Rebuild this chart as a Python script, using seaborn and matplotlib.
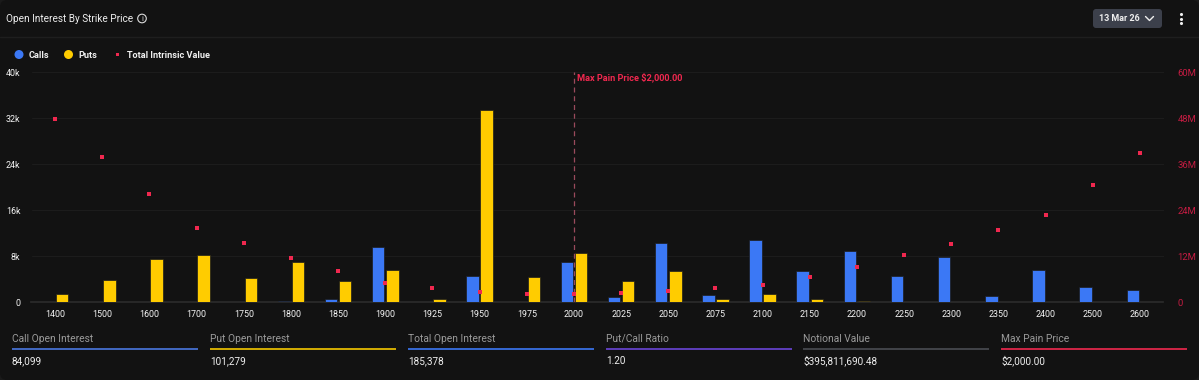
import matplotlib
matplotlib.use('Agg')
import matplotlib.pyplot as plt
import pandas as pd
import seaborn as sns
from matplotlib.patches import Circle, FancyBboxPatch, Rectangle

W, H = 1199, 380
BG = '#121212'
BLUE = '#3b78f5'
YELLOW = '#ffcc00'
RED = '#f0284f'
DARKRED = '#c41c42'

strikes = ['1400', '1500', '1600', '1700', '1750', '1800', '1850', '1900', '1925', '1950', '1975', '2000',
           '2025', '2050', '2075', '2100', '2150', '2200', '2250', '2300', '2350', '2400', '2500', '2600']
calls = [0, 0, 0, 0, 0, 150, 450, 9500, 0, 4500, 0, 7000,
         950, 10200, 1150, 10700, 5400, 8800, 4500, 7900, 1050, 5600, 2600, 2100]
puts = [1400, 3800, 7500, 8100, 4200, 6900, 3700, 5500, 550, 33400, 4400, 8500,
        3600, 5400, 550, 1400, 550, 200, 0, 0, 0, 0, 0, 0]
intrinsic = [47.7, 37.8, 28.2, 19.3, 15.4, 11.5, 8.1, 5.0, 3.7, 2.6, 2.2, 2.1,
             2.3, 2.9, 3.6, 4.4, 6.5, 9.1, 12.2, 15.1, 18.8, 22.7, 30.5, 38.9]

left_ticks = [0, 8000, 16000, 24000, 32000, 40000]
left_labels = ['0', '8k', '16k', '24k', '32k', '40k']
right_ticks = [0, 12, 24, 36, 48, 60]
right_labels = ['0', '12M', '24M', '36M', '48M', '60M']

stat_names = ['Call Open Interest', 'Put Open Interest', 'Total Open Interest',
              'Put/Call Ratio', 'Notional Value', 'Max Pain Price']
stat_values = ['84,099', '101,279', '185,378', '1.20', '$395,811,690.48', '$2,000.00']
stat_colors = ['#4a78e0', '#f5c800', '#3b78f5', '#6a45d8', '#4a4c52', '#f0284f']

sns.set_theme(style='dark')
plt.rcParams['font.family'] = ['Roboto', 'DejaVu Sans']

df = pd.DataFrame({'strike': strikes * 2,
                   'oi': calls + puts,
                   'type': ['Calls'] * len(strikes) + ['Puts'] * len(strikes)})
iv = pd.DataFrame({'strike': strikes, 'value': intrinsic})

fig = plt.figure(figsize=(W / 100, H / 100), dpi=100, facecolor='#1a1a1a')

# full figure layer in pixel coordinates for the panel furniture
bg = fig.add_axes([0, 0, 1, 1], zorder=0)
bg.set_xlim(0, W)
bg.set_ylim(H, 0)
bg.axis('off')
bg.add_patch(FancyBboxPatch((0, 0), W, H, boxstyle='round,pad=0,rounding_size=7', fc=BG, ec='none'))
bg.plot([0, W], [37, 37], color='#1e1e1e', lw=1)

ax = fig.add_axes([31.5 / W, 1 - 302 / H, 1132 / W, 230 / H], zorder=2)
ax.patch.set_alpha(0)
sns.barplot(data=df, x='strike', y='oi', hue='type', order=strikes, hue_order=['Calls', 'Puts'],
            palette=[BLUE, YELLOW], saturation=1, width=0.6, gap=0.12, legend=False, ax=ax,
            edgecolor='#1c1c1c', linewidth=0.5, zorder=3)
ax.set_xlim(-0.5, len(strikes) - 0.5)
ax.set_ylim(0, 40000)
ax.set_yticks(left_ticks, left_labels)
ax.set_xlabel('')
ax.set_ylabel('')
ax.grid(axis='y', color='#1c1c1c', lw=0.8)
ax.grid(axis='x', visible=False)
ax.set_axisbelow(True)
for s in ['top', 'left', 'right']:
    ax.spines[s].set_visible(False)
ax.spines['bottom'].set_color('#2b2b2b')
ax.tick_params(axis='x', colors='#f4f4f4', labelsize=6.4, length=0, pad=6)
ax.tick_params(axis='y', colors='#f4f4f4', labelsize=6.4, length=0, pad=8)

ax.axvline(strikes.index('2000'), color='#9a4a5c', lw=0.9, ls=(0, (4, 3)), zorder=4)
ax.text(strikes.index('2000') + 0.07, 39100, 'Max Pain Price $2,000.00', color=RED,
        fontsize=6.6, fontweight='bold', va='center', ha='left')

ax2 = ax.twinx()
sns.scatterplot(data=iv, x='strike', y='value', color=RED, marker='s', s=7, linewidth=0, ax=ax2, zorder=5)
ax2.set_ylim(0, 60)
ax2.set_yticks(right_ticks, right_labels)
ax2.set_ylabel('')
ax2.grid(False)
for s in ax2.spines.values():
    s.set_visible(False)
ax2.tick_params(axis='y', colors=DARKRED, labelsize=6.8, length=0, pad=10)

# header
bg.text(6, 19, 'Open Interest By Strike Price', color='#eeeeee', fontsize=7.2, va='center', ha='left')
bg.add_patch(Circle((142, 18.5), 4.3, fc='none', ec='#dddddd', lw=0.8))
bg.text(142, 18.7, 'i', color='#dddddd', fontsize=5.5, va='center', ha='center')
bg.add_patch(FancyBboxPatch((1093, 9), 69, 19, boxstyle='round,pad=0,rounding_size=3', fc='#3c404b', ec='none'))
bg.text(1099, 18.5, '13 Mar 26', color='#eeeeee', fontsize=6.4, fontweight='bold', va='center', ha='left')
bg.plot([1145.5, 1149.5, 1153.5], [16.5, 20.5, 16.5], color='#eeeeee', lw=1)
bg.scatter([1180.5, 1180.5, 1180.5], [13.5, 18.5, 23], s=5, color='#eeeeee', linewidth=0)

# legend
bg.add_patch(Circle((19, 54.5), 4.5, fc=BLUE, ec='none'))
bg.text(28.5, 55, 'Calls', color='#f0f0f0', fontsize=6.6, fontweight='bold', va='center')
bg.add_patch(Circle((68.5, 54.5), 4.5, fc=YELLOW, ec='none'))
bg.text(78, 55, 'Puts', color='#f0f0f0', fontsize=6.6, fontweight='bold', va='center')
bg.add_patch(Rectangle((115.5, 53), 3, 3, fc=RED, ec='none'))
bg.text(127, 55, 'Total Intrinsic Value', color='#f0f0f0', fontsize=6.6, fontweight='bold', va='center')

# stat strip under the chart
x0 = [12, 210, 408, 606, 803, 1001]
for x, name, val, c in zip(x0, stat_names, stat_values, stat_colors):
    bg.text(x, 338.5, name, color='#9a9a9a', fontsize=7.4, va='center', ha='left')
    bg.plot([x, x + 186], [349, 349], color=c, lw=1.2, solid_capstyle='butt')
    bg.text(x, 361, val, color='#eeeeee', fontsize=7.2, va='center', ha='left')

plt.savefig('out.png', dpi=100, facecolor=fig.get_facecolor())
